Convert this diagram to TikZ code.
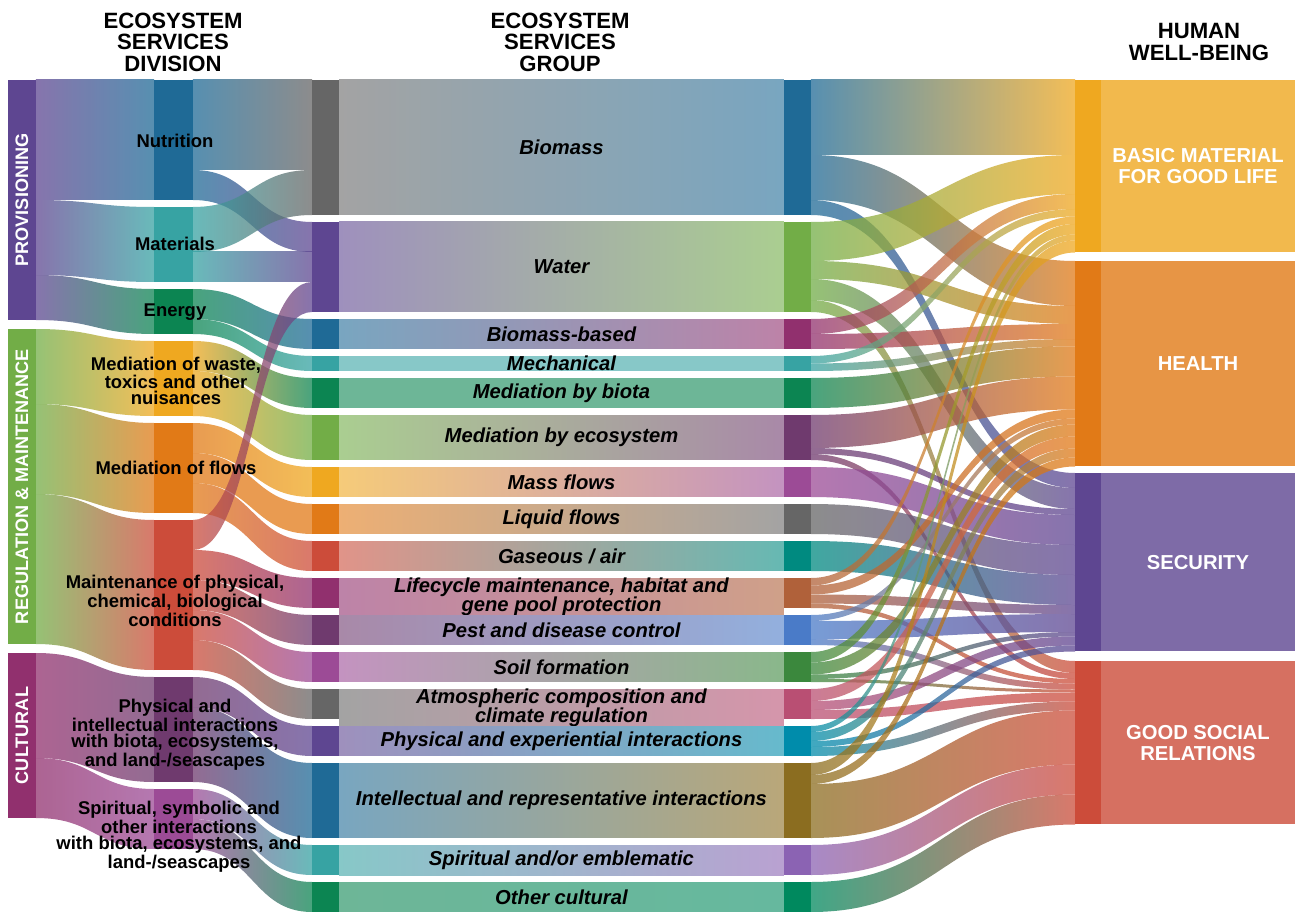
\documentclass[tikz,border=0pt]{standalone}
\usepackage{fontspec}
\setmainfont{Liberation Sans}
\usetikzlibrary{calc,positioning}

\definecolor{cPurple}{HTML}{5E4691}
\definecolor{cGreen}{HTML}{72AD47}
\definecolor{cMagenta}{HTML}{91306E}
\definecolor{cBlue}{HTML}{1F6A96}
\definecolor{cTeal}{HTML}{37A3A3}
\definecolor{cDkGreen}{HTML}{0C8552}
\definecolor{cGold}{HTML}{EFA820}
\definecolor{cOrange}{HTML}{E17A17}
\definecolor{cRed}{HTML}{CC4C3A}
\definecolor{cPlum}{HTML}{6F3A6E}
\definecolor{cOrchid}{HTML}{9C4B96}
\definecolor{cGray}{HTML}{666666}
\definecolor{cSea}{HTML}{008A80}
\definecolor{cBrown}{HTML}{B0613A}
\definecolor{cCorn}{HTML}{4A7BC8}
\definecolor{cLeaf}{HTML}{3B883D}
\definecolor{cRose}{HTML}{B94F73}
\definecolor{cCyan}{HTML}{008CAB}
\definecolor{cOlive}{HTML}{8B6D20}
\definecolor{cLilac}{HTML}{8B63B3}
\definecolor{cJade}{HTML}{00895E}

\newcommand{\ttlfont}{\fontsize{12.6}{12.2}\selectfont\bfseries}
\newcommand{\secfont}{\fontsize{10.3}{11}\selectfont\bfseries}
\newcommand{\divfont}{\fontsize{10.5}{9.1}\selectfont\bfseries}
\newcommand{\grpfont}{\fontsize{11.5}{10.8}\selectfont\bfseries\itshape}
\newcommand{\hwbfont}{\fontsize{11.5}{11.9}\selectfont\bfseries}

\tikzset{
  blk/.style={rectangle, inner sep=0pt, outer sep=0pt, anchor=north west,
    minimum height=#1*0.3cm},
  secbar/.style={blk=#1, minimum width=0.56cm},
  divbar/.style={blk=#1, minimum width=0.78cm},
  grpbar/.style={blk=#1, minimum width=0.54cm},
  grpband/.style={blk=#1, minimum width=8.9cm, font=\grpfont, align=center},
  hwbbar/.style={blk=#1, minimum width=0.52cm},
  hwbbox/.style={blk=#1, minimum width=3.88cm, font=\hwbfont, text=white, align=center},
  ttl/.style={font=\ttlfont, align=center},
  seclab/.style={rotate=90, font=\secfont, text=white},
  divlab/.style={font=\divfont, align=center},
  link/.style={fill opacity=0.75}
}

% band from the east side of #1 to the west side of #2, #3 units wide
\newcommand{\flow}[5]{%
  \ifcsname ofs#1o\endcsname\else\expandafter\xdef\csname ofs#1o\endcsname{0}\fi
  \ifcsname ofs#2i\endcsname\else\expandafter\xdef\csname ofs#2i\endcsname{0}\fi
  \pgfmathsetmacro{\flowwd}{#3*15}%
  \edef\flowsa{\csname ofs#1o\endcsname}%
  \edef\flowsb{\csname ofs#2i\endcsname}%
  \path[link, left color=#4, right color=#5]
    let \p1=($(#1.north east)+(0,\flowsa)$), \p2=($(#1.north east)+(0,\flowsa+\flowwd)$),
        \p3=($(#2.north west)+(0,\flowsb)$), \p4=($(#2.north west)+(0,\flowsb+\flowwd)$),
        \p5=($(\p1)!0.5!(\p3)$) in
    (\p1) .. controls (\x5,\y1) and (\x5,\y3) .. (\p3) -- (\p4)
    .. controls (\x5,\y4) and (\x5,\y2) .. (\p2) -- cycle;
  \pgfmathsetmacro{\flowsa}{\flowsa+\flowwd}\expandafter\xdef\csname ofs#1o\endcsname{\flowsa}%
  \pgfmathsetmacro{\flowsb}{\flowsb+\flowwd}\expandafter\xdef\csname ofs#2i\endcsname{\flowsb}%
}

\begin{document}
\begin{tikzpicture}[x=0.02cm, y=-0.02cm]
  \useasboundingbox (0,0) rectangle (1295,912);

  % column titles
  \node[ttl] (tDiv) at (173,42) {ECOSYSTEM\\SERVICES\\DIVISION};
  \node[ttl] (tGrp) at (560,42) {ECOSYSTEM\\SERVICES\\GROUP};
  \node[ttl] (tHwb) at (1199,42) {HUMAN\\WELL-BEING};

  % sections
  \node[secbar=16, fill=cPurple] (prov) at (8,80) {};
  \node[secbar=21, fill=cGreen] (reg) at (8,329) {};
  \node[secbar=11, fill=cMagenta] (cult) at (8,653) {};
  \node[seclab] (lProv) at (prov) {PROVISIONING};
  \node[seclab] (lReg) at (reg) {REGULATION \& MAINTENANCE};
  \node[seclab] (lCult) at (cult) {CULTURAL};

  % divisions
  \foreach \nm/\tp/\un/\cla in {dNutr/80/8/cBlue, dMat/207/5/cTeal, dEnergy/289/3/cDkGreen,
      dWaste/341/5/cGold, dFlows/423/6/cOrange, dMaint/520/10/cRed,
      dPhys/677/7/cPlum, dSpirit/789/4/cOrchid}
    \node[divbar=\un, fill=\cla] (\nm) at (154,\tp) {};

  % groups
  \foreach \nm/\tp/\un/\cla/\clb/\tx in {
      Biomass/80/9/cGray/cBlue/{Biomass},
      Water/222/6/cPurple/cGreen/{Water},
      Bbased/319/2/cBlue/cMagenta/{Biomass-based},
      Mech/356/1/cTeal/cTeal/{Mechanical},
      Biota/378/2/cDkGreen/cDkGreen/{Mediation by biota},
      Eco/415/3/cGreen/cPlum/{Mediation by ecosystem},
      Mass/467/2/cGold/cOrchid/{Mass flows},
      Liquid/504/2/cOrange/cGray/{Liquid flows},
      Gas/541/2/cRed/cSea/{Gaseous / air},
      Life/578/2/cMagenta/cBrown/{Lifecycle maintenance, habitat and\\gene pool protection},
      Pest/615/2/cPlum/cCorn/{Pest and disease control},
      Soil/652/2/cOrchid/cLeaf/{Soil formation},
      Atmo/689/2/cGray/cRose/{Atmospheric composition and\\climate regulation},
      PhysExp/726/2/cPurple/cCyan/{Physical and experiential interactions},
      Intel/763/5/cBlue/cOlive/{Intellectual and representative interactions},
      Spirit/845/2/cTeal/cLilac/{Spiritual and/or emblematic},
      Other/882/2/cDkGreen/cJade/{Other cultural}}{
    \node[grpband=\un, left color=\cla!60!white, right color=\clb!60!white] (g\nm) at (339,\tp) {\tx};
    \node[grpbar=\un, fill=\cla, anchor=north east] (\nm-in) at (g\nm.north west) {};
    \node[grpbar=\un, fill=\clb] (\nm-out) at (g\nm.north east) {};
  }

  % human well-being
  \node[hwbbar=11.5, fill=cGold] (basic) at (1075,80) {};
  \node[hwbbox=11.5, fill=cGold!80!white] (basicbox) at (basic.north east) {BASIC MATERIAL\\FOR GOOD LIFE};
  \node[hwbbar=13.7, fill=cOrange] (health) at (1075,261) {};
  \node[hwbbox=13.7, fill=cOrange!80!white] (healthbox) at (health.north east) {HEALTH};
  \node[hwbbar=11.9, fill=cPurple] (secur) at (1075,473) {};
  \node[hwbbox=11.9, fill=cPurple!80!white] (securbox) at (secur.north east) {SECURITY};
  \node[hwbbar=10.9, fill=cRed] (social) at (1075,661) {};
  \node[hwbbox=10.9, fill=cRed!80!white] (socialbox) at (social.north east) {GOOD SOCIAL\\RELATIONS};

  % section -> division
  \flow{prov}{dNutr}{8}{cPurple}{cBlue}
  \flow{prov}{dMat}{5}{cPurple}{cTeal}
  \flow{prov}{dEnergy}{3}{cPurple}{cDkGreen}
  \flow{reg}{dWaste}{5}{cGreen}{cGold}
  \flow{reg}{dFlows}{6}{cGreen}{cOrange}
  \flow{reg}{dMaint}{10}{cGreen}{cRed}
  \flow{cult}{dPhys}{7}{cMagenta}{cPlum}
  \flow{cult}{dSpirit}{4}{cMagenta}{cOrchid}

  % division -> group
  \flow{dNutr}{Biomass-in}{6}{cBlue}{cGray}
  \flow{dNutr}{Water-in}{2}{cBlue}{cPurple}
  \flow{dMat}{Biomass-in}{3}{cTeal}{cGray}
  \flow{dMat}{Water-in}{2}{cTeal}{cPurple}
  \flow{dEnergy}{Bbased-in}{2}{cDkGreen}{cBlue}
  \flow{dEnergy}{Mech-in}{1}{cDkGreen}{cTeal}
  \flow{dWaste}{Biota-in}{2}{cGold}{cDkGreen}
  \flow{dWaste}{Eco-in}{3}{cGold}{cGreen}
  \flow{dFlows}{Mass-in}{2}{cOrange}{cGold}
  \flow{dFlows}{Liquid-in}{2}{cOrange}{cOrange}
  \flow{dFlows}{Gas-in}{2}{cOrange}{cRed}
  \flow{dMaint}{Water-in}{2}{cRed}{cPurple}
  \flow{dMaint}{Life-in}{2}{cRed}{cMagenta}
  \flow{dMaint}{Pest-in}{2}{cRed}{cPlum}
  \flow{dMaint}{Soil-in}{2}{cRed}{cOrchid}
  \flow{dMaint}{Atmo-in}{2}{cRed}{cGray}
  \flow{dPhys}{PhysExp-in}{2}{cPlum}{cPurple}
  \flow{dPhys}{Intel-in}{5}{cPlum}{cBlue}
  \flow{dSpirit}{Spirit-in}{2}{cOrchid}{cTeal}
  \flow{dSpirit}{Other-in}{2}{cOrchid}{cDkGreen}

  % group -> well-being
  \flow{Biomass-out}{basic}{5}{cBlue}{cGold}
  \flow{Biomass-out}{health}{3}{cBlue}{cOrange}
  \flow{Biomass-out}{secur}{1}{cBlue}{cPurple}
  \flow{Water-out}{basic}{2.6}{cGreen}{cGold}
  \flow{Water-out}{health}{1.2}{cGreen}{cOrange}
  \flow{Water-out}{secur}{1.4}{cGreen}{cPurple}
  \flow{Water-out}{social}{0.8}{cGreen}{cRed}
  \flow{Bbased-out}{basic}{1}{cMagenta}{cGold}
  \flow{Bbased-out}{health}{1}{cMagenta}{cOrange}
  \flow{Mech-out}{basic}{0.5}{cTeal}{cGold}
  \flow{Mech-out}{health}{0.5}{cTeal}{cOrange}
  \flow{Biota-out}{health}{2}{cDkGreen}{cOrange}
  \flow{Eco-out}{health}{2.2}{cPlum}{cOrange}
  \flow{Eco-out}{secur}{0.4}{cPlum}{cPurple}
  \flow{Eco-out}{social}{0.4}{cPlum}{cRed}
  \flow{Mass-out}{secur}{2}{cOrchid}{cPurple}
  \flow{Liquid-out}{secur}{2}{cGray}{cPurple}
  \flow{Gas-out}{secur}{2}{cSea}{cPurple}
  \flow{Life-out}{basic}{0.5}{cBrown}{cGold}
  \flow{Life-out}{health}{0.6}{cBrown}{cOrange}
  \flow{Life-out}{secur}{0.6}{cBrown}{cPurple}
  \flow{Life-out}{social}{0.3}{cBrown}{cRed}
  \flow{Pest-out}{health}{0.4}{cCorn}{cOrange}
  \flow{Pest-out}{secur}{1.2}{cCorn}{cPurple}
  \flow{Pest-out}{social}{0.4}{cCorn}{cRed}
  \flow{Soil-out}{basic}{0.7}{cLeaf}{cGold}
  \flow{Soil-out}{health}{0.8}{cLeaf}{cOrange}
  \flow{Soil-out}{secur}{0.3}{cLeaf}{cPurple}
  \flow{Soil-out}{social}{0.2}{cLeaf}{cRed}
  \flow{Atmo-out}{health}{0.8}{cRose}{cOrange}
  \flow{Atmo-out}{secur}{0.6}{cRose}{cPurple}
  \flow{Atmo-out}{social}{0.6}{cRose}{cRed}
  \flow{PhysExp-out}{basic}{0.4}{cCyan}{cGold}
  \flow{PhysExp-out}{health}{0.6}{cCyan}{cOrange}
  \flow{PhysExp-out}{secur}{0.4}{cCyan}{cPurple}
  \flow{PhysExp-out}{social}{0.6}{cCyan}{cRed}
  \flow{Intel-out}{basic}{0.8}{cOlive}{cGold}
  \flow{Intel-out}{health}{0.6}{cOlive}{cOrange}
  \flow{Intel-out}{social}{3.6}{cOlive}{cRed}
  \flow{Spirit-out}{social}{2}{cLilac}{cRed}
  \flow{Other-out}{social}{2}{cJade}{cRed}

  % division labels on top of the bands
  \node[divlab] (lNutr) at (175,141) {Nutrition};
  \node[divlab] (lMat) at (175,244) {Materials};
  \node[divlab] (lEnergy) at (175,312) {Energy};
  \node[divlab] (lWaste) at (176,381) {Mediation of waste,\\toxics and other\\nuisances};
  \node[divlab] (lFlows) at (176,468) {Mediation of flows};
  \node[divlab] (lMaint) at (175,601) {Maintenance of physical,\\chemical, biological\\conditions};
  \node[divlab] (lPhys) at (175,735) {Physical and\\intellectual interactions\\with biota, ecosystems,\\and land-/seascapes};
  \node[divlab] (lSpirit) at (179,837) {Spiritual, symbolic and\\other interactions\\with biota, ecosystems, and\\land-/seascapes};
\end{tikzpicture}
\end{document}
